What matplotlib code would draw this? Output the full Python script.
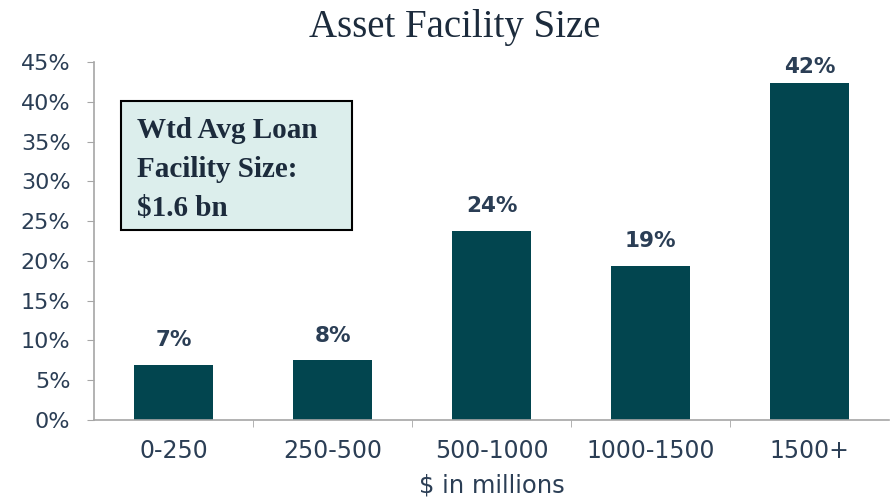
import numpy as np
import matplotlib.pyplot as plt
from matplotlib.patches import Rectangle
from matplotlib.ticker import FixedLocator, PercentFormatter

# data
categories = ["0-250", "250-500", "500-1000", "1000-1500", "1500+"]
shares = [6.9, 7.5, 23.8, 19.4, 42.4]
labels = ["7%", "8%", "24%", "19%", "42%"]

bar_color = "#02454F"
text_color = "#2B3E55"
title_color = "#1C2B3C"
axis_color = "#A6A6A6"

fig = plt.figure(figsize=(8.92, 4.98), dpi=100)
ax = fig.add_axes([0.1054, 0.1566, 0.8912, 0.7189])

x = np.arange(len(categories))
ax.bar(x, shares, width=0.5, color=bar_color, zorder=2)

# labels sit ~25px above the bar, the top one gets pushed down under the frame
for xi, v, lab in zip(x, shares, labels):
    ax.text(xi, min(v + 3.1, 44.4), lab, ha="center", va="center", fontsize=15.5,
            fontweight="bold", color=text_color, family="DejaVu Sans")

ax.set_xlim(-0.5, len(categories) - 0.5)
ax.set_ylim(0, 45)
ax.set_yticks(np.arange(0, 46, 5))
ax.yaxis.set_major_formatter(PercentFormatter(decimals=0))

ax.set_xticks(x)
ax.set_xticklabels(categories)
ax.xaxis.set_minor_locator(FixedLocator(x[:-1] + 0.5))
ax.tick_params(axis="x", which="major", length=0, pad=14)
ax.tick_params(axis="x", which="minor", length=5, color=axis_color)
ax.tick_params(axis="y", length=5, color=axis_color, pad=12)
for lab in ax.get_xticklabels():
    lab.set_fontsize(17)
    lab.set_color(text_color)
for lab in ax.get_yticklabels():
    lab.set_fontsize(16)
    lab.set_color(text_color)

for side in ["top", "right"]:
    ax.spines[side].set_visible(False)
for side in ["left", "bottom"]:
    ax.spines[side].set_color(axis_color)
    ax.spines[side].set_linewidth(1.2)

ax.set_xlabel("$ in millions", fontsize=17.5, color=text_color, labelpad=7)

fig.text(0.51, 0.945, "Asset Facility Size", ha="center", va="center",
         fontsize=28, color=title_color, family="Liberation Serif")

# note box
ax.add_patch(Rectangle((0.034, 0.531), 0.2905, 0.36, transform=ax.transAxes,
                       facecolor="#DCEEEC", edgecolor="black", linewidth=1.5,
                       zorder=3))
ax.text(0.054, 0.700, "Wtd Avg Loan\nFacility Size:\n$1.6 bn", transform=ax.transAxes,
        ha="left", va="center", fontsize=21, fontweight="bold", color=title_color,
        family="Liberation Serif", linespacing=1.58, zorder=4)

fig.savefig("out.png", dpi=100)
